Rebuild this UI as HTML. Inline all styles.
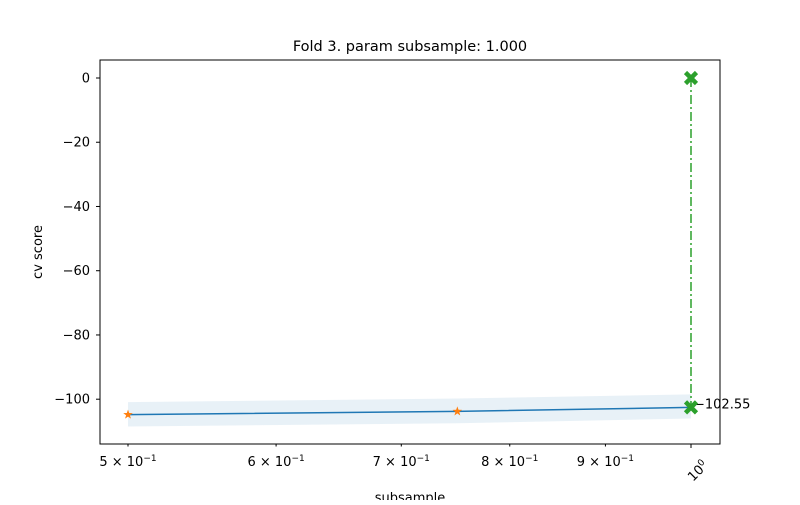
<!DOCTYPE html>
<html><head><meta charset="utf-8"><style>
body{margin:0;background:#fff}
svg{font-family:"DejaVu Sans","Liberation Sans",sans-serif}
</style></head><body>
<svg id="c" width="800" height="500"></svg>
<script>
const xVals=[0.5,0.75,1.0];
const yMean=[-104.8,-103.8,-102.55];
const yLow=[-108.5,-107.5,-106.0];
const yHigh=[-100.9,-99.8,-98.5];
const bestX=1.0;
const bestVals=[0,-102.55];
const yTicks=[0,-20,-40,-60,-80,-100];
const xTicks=[0.5,0.6,0.7,0.8,0.9];
const xTickMant=["5","6","7","8","9"];
const L=100,R=720,T=60,B=444;
const X=v=>128+(Math.log10(v)-Math.log10(0.5))/Math.log10(2)*563;
const Y=v=>78-v*3.212;
const NS="http://www.w3.org/2000/svg";
const svg=document.getElementById('c');
function mk(t,a,p){const e=document.createElementNS(NS,t);for(const k in a)e.setAttribute(k,a[k]);(p||svg).appendChild(e);return e;}
let pts=xVals.map((x,i)=>X(x)+','+Y(yHigh[i])).concat(xVals.map((x,i)=>X(x)+','+Y(yLow[i])).reverse());
const band=mk('polygon',{points:pts.join(' '),fill:'#1f77b4','fill-opacity':0.1});


const line=mk('polyline',{points:xVals.map((x,i)=>X(x)+','+Y(yMean[i])).join(' '),fill:'none',stroke:'#1f77b4','stroke-width':1.5});


xVals.forEach((x,i)=>{
 const cx=X(x),cy=Y(yMean[i]);let p=[];
 for(let k=0;k<10;k++){const r=k%2?2:5,a=-Math.PI/2+k*Math.PI/5;p.push((cx+r*Math.cos(a))+','+(cy+r*Math.sin(a)));}
 const s=mk('polygon',{points:p.join(' '),fill:'#ff7f0e'});
 
 
});
const bl=mk('line',{x1:X(bestX),x2:X(bestX),y1:Y(bestVals[0]),y2:Y(bestVals[1]),stroke:'#2ca02c','stroke-width':1.5,'stroke-dasharray':'9,3,2,3'});


const lab=mk('text',{x:X(bestX)+3,y:Y(bestVals[1])+1,'font-size':13});
lab.textContent=bestVals[1].toFixed(2).replace('-','\u2212');


bestVals.forEach(v=>{
 const cx=X(bestX),cy=Y(v);
 const g=mk('path',{d:`M${cx-5.5},${cy-5.5}L${cx+5.5},${cy+5.5}M${cx-5.5},${cy+5.5}L${cx+5.5},${cy-5.5}`,stroke:'#2ca02c','stroke-width':4.5});
 
 
});
const fr=mk('rect',{x:L,y:T,width:R-L,height:B-T,fill:'none',stroke:'#000','stroke-width':1});


yTicks.forEach(v=>{
 mk('line',{x1:L-4,x2:L,y1:Y(v),y2:Y(v),stroke:'#000'});
 const t=mk('text',{x:L-10,y:Y(v)+4.5,'font-size':13,'text-anchor':'end'});
 t.textContent=String(v).replace('-','\u2212');
 
 
});
xTicks.forEach((v,i)=>{
 mk('line',{x1:X(v),x2:X(v),y1:B,y2:B+2.5,stroke:'#000'});
 const t=mk('text',{x:X(v),y:B+22,'font-size':13,'text-anchor':'middle'});
 t.innerHTML=xTickMant[i]+' \u00d7 10<tspan dy="-5" font-size="9">\u22121</tspan>';
 
 
});
mk('line',{x1:X(1),x2:X(1),y1:B,y2:B+4,stroke:'#000'});
const t0=mk('text',{x:0,y:0,'font-size':13,transform:`translate(${X(1)+2},${B+38}) rotate(-45)`});
t0.innerHTML='10<tspan dy="-5" font-size="9">0</tspan>';


const ti=mk('text',{x:410,y:51,'font-size':14.5,'text-anchor':'middle'});
ti.textContent='Fold 3. param subsample: 1.000';


const yl=mk('text',{x:0,y:0,'font-size':13,'text-anchor':'middle',transform:'translate(42,252) rotate(-90)'});
yl.textContent='cv score';


const xl=mk('text',{x:410,y:502,'font-size':13,'text-anchor':'middle'});
xl.textContent='subsample';


</script>
</body></html>
